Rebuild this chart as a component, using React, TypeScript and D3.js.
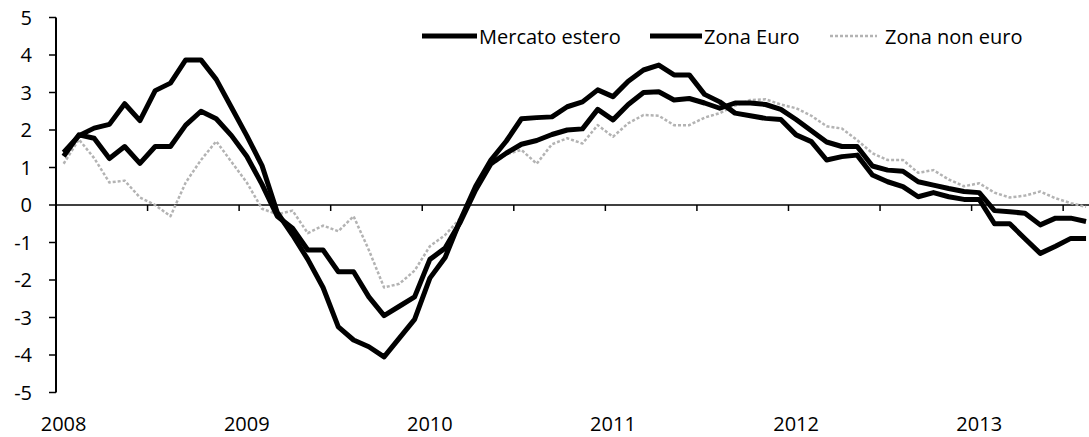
import React from "react";
import * as d3 from "d3";

// Monthly categories Jan 2008 – Aug 2013
const months: Date[] = d3.timeMonth.range(new Date(2008, 0, 1), new Date(2013, 8, 1));
const yearLabels = ["2008", "2009", "2010", "2011", "2012", "2013"];
const yTicks = [5, 4, 3, 2, 1, 0, -1, -2, -3, -4, -5];

const mercatoEstero = [
  1.3, 1.87, 1.78, 1.24, 1.56, 1.11, 1.56, 1.56, 2.13, 2.5, 2.3, 1.85,
  1.3, 0.55, -0.3, -0.62, -1.2, -1.2, -1.78, -1.78, -2.45, -2.95, -2.7, -2.45,
  -1.45, -1.15, -0.45, 0.4, 1.1, 1.38, 1.62, 1.72, 1.88, 2.0, 2.03, 2.55,
  2.27, 2.68, 3.0, 3.02, 2.8, 2.84, 2.72, 2.58, 2.72, 2.72, 2.68, 2.55,
  2.28, 1.98, 1.68, 1.56, 1.56, 1.04, 0.93, 0.9, 0.62, 0.53, 0.44, 0.36,
  0.33, -0.15, -0.18, -0.22, -0.53, -0.35, -0.35, -0.44,
];

const zonaEuro = [
  1.4, 1.85, 2.05, 2.15, 2.7, 2.25, 3.05, 3.25, 3.87, 3.87, 3.35, 2.6,
  1.85, 1.05, -0.2, -0.8, -1.45, -2.2, -3.25, -3.6, -3.78, -4.05, -3.55, -3.05,
  -1.95, -1.4, -0.4, 0.5, 1.2, 1.7, 2.3, 2.33, 2.35, 2.62, 2.75, 3.07,
  2.89, 3.3, 3.6, 3.73, 3.47, 3.47, 2.95, 2.75, 2.45, 2.38, 2.31, 2.28,
  1.87, 1.69, 1.2, 1.29, 1.33, 0.8, 0.62, 0.49, 0.22, 0.33, 0.22, 0.15,
  0.15, -0.5, -0.5, -0.9, -1.29, -1.1, -0.89, -0.89,
];

const zonaNonEuro = [
  1.1, 1.75, 1.25, 0.6, 0.65, 0.2, 0.0, -0.3, 0.6, 1.2, 1.7, 1.15,
  0.6, -0.1, -0.25, -0.15, -0.75, -0.55, -0.7, -0.3, -1.2, -2.2, -2.1, -1.75,
  -1.1, -0.8, -0.35, 0.4, 1.05, 1.35, 1.47, 1.1, 1.62, 1.78, 1.64, 2.13,
  1.82, 2.18, 2.4, 2.38, 2.13, 2.13, 2.33, 2.45, 2.65, 2.8, 2.82, 2.68,
  2.58, 2.38, 2.1, 2.04, 1.73, 1.38, 1.2, 1.2, 0.86, 0.93, 0.68, 0.5,
  0.58, 0.33, 0.2, 0.25, 0.36, 0.18, 0.05, -0.05,
];

const W = 1089;
const H = 437;
const FONT = "'Open Sans', sans-serif";

export default function App() {
  const idx = months.map((_, i) => i);
  const step = 15.26;
  const x0 = 56;
  const x = d3.scaleBand<number>().domain(idx).range([x0, x0 + step * months.length]).padding(0);
  const cx = (i: number) => (x(i) as number) + x.bandwidth() / 2;
  const y = d3.scaleLinear().domain([-5, 5]).range([392.5, 17.5]);

  const line = d3
    .line<number>()
    .x((_, i) => cx(i))
    .y((d) => y(d));

  const tickIdx = idx.filter((i) => i % 6 === 0 && i > 0);
  const labelIdx = idx.filter((i) => i % 12 === 0);

  return (
    <svg
      width={W}
      height={H}
      style={{ position: "absolute", left: 0, top: 0, background: "#fff" }}
      fontFamily={FONT}
    >
      <rect x={0} y={0} width={W} height={H} fill="#fff" />
      {/* y axis */}
      <line x1={x0} x2={x0} y1={y(5)} y2={y(-5)} stroke="#000" strokeWidth={2} />
      {yTicks.map((t) => (
        <g key={t}>
          <line x1={x0 - 7} x2={x0} y1={y(t)} y2={y(t)} stroke="#000" strokeWidth={1.5} />
          <text x={32} y={y(t) + 7} textAnchor="end" fontSize={20} fill="#000">
            {t}
          </text>
        </g>
      ))}
      {/* x axis at zero */}
      <line x1={x0} x2={W} y1={y(0)} y2={y(0)} stroke="#000" strokeWidth={1.5} />
      {tickIdx.map((i) => (
        <line key={i} x1={x(i) as number} x2={x(i) as number} y1={y(0)} y2={y(0) + 6} stroke="#000" strokeWidth={1.5} />
      ))}
      {labelIdx.map((i, k) => (
        <text key={i} x={cx(i)} y={431} textAnchor="middle" fontSize={20} fill="#000">
          {yearLabels[k]}
        </text>
      ))}

      {/* series */}
      <path d={line(zonaNonEuro) || ""} fill="none" stroke="#b3b3b3" strokeWidth={2.5} strokeDasharray="3 2" strokeLinejoin="round" />
      <path d={line(mercatoEstero) || ""} fill="none" stroke="#000" strokeWidth={5} strokeLinejoin="round" />
      <path d={line(zonaEuro) || ""} fill="none" stroke="#000" strokeWidth={5} strokeLinejoin="round" />

      {/* legend */}
      <line x1={422} x2={477} y1={36} y2={36} stroke="#000" strokeWidth={5} />
      <text x={479} y={44} fontSize={20} fill="#000">Mercato estero</text>
      <line x1={650} x2={702} y1={36} y2={36} stroke="#000" strokeWidth={5} />
      <text x={704} y={44} fontSize={20} fill="#000">Zona Euro</text>
      <line x1={830} x2={877} y1={36} y2={36} stroke="#b3b3b3" strokeWidth={2.5} strokeDasharray="3 2" />
      <text x={885} y={44} fontSize={20} fill="#000">Zona non euro</text>
    </svg>
  );
}
